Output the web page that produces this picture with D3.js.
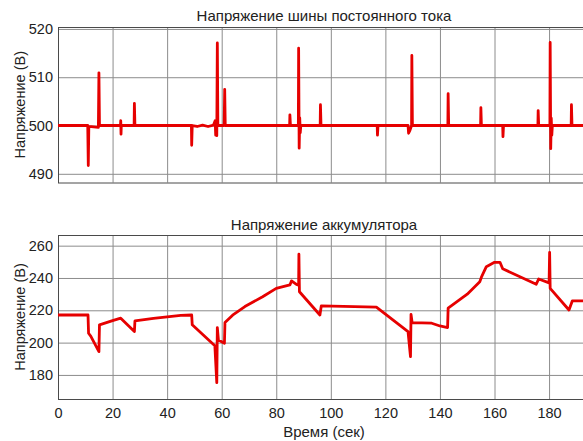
<!DOCTYPE html>
<html><head><meta charset="utf-8">
<script src="https://cdn.jsdelivr.net/npm/d3@7/dist/d3.min.js"></script>
<style>body{margin:0;background:#fff}svg{display:block}text{font-family:"Liberation Sans",Arial,sans-serif;fill:#222}</style>
</head><body><svg id="c" width="583" height="441"></svg>
<script>
// ---- data ----
const busTitle = "Напряжение шины постоянного тока";
const batTitle = "Напряжение аккумулятора";
const yLabel = "Напряжение (В)";
const xLabel = "Время (сек)";
const xTicks = [0,20,40,60,80,100,120,140,160,180,200];
const busTicks = [490,500,510,520];
const batTicks = [180,200,220,240,260];

const busTime = [0,10.9,11.1,11.3,14.8,15.0,15.2,22.9,23.0,23.1,23.2,27.9,28.0,28.2,48.9,49.0,49.2,51,53,55,57,57.6,57.8,58.0,58.2,58.4,58.6,60.9,61.1,61.3,84.9,85.0,85.2,88.1,88.2,88.4,88.6,88.8,89.0,96.1,96.2,96.4,117.0,117.1,117.3,128.3,128.5,129.0,129.6,129.7,129.9,142.9,143.0,143.2,154.9,155.0,155.2,163.0,163.1,163.3,175.9,176.0,176.2,180.3,180.4,180.6,180.8,181.0,181.2,188.1,188.2,188.4,195];
const busVolt = [500,500,491.7,499.8,499.6,510.9,500,500,501,498.2,500,500,504.6,500,500,495.9,500,499.8,500.1,499.8,500.1,501,498,501,497.9,517.1,500,500,507.5,500,500,502.2,500,500,516,495.3,501.6,498.5,500,500,504.3,500,500,498,500,500,498.4,499,500,514.5,500,500,506.6,500,500,503.7,500,500,497.7,500,500,503.1,500,500,517.2,495.2,501.5,498,500,500,504.3,500,500];

const batTime = [0,11.0,11.2,12,15.0,15.2,20,23,28,28.2,35,45,49,49.2,57.5,58.2,58.4,58.8,61,61.2,64,68.5,75,80,85,85.6,87.4,88.2,88.3,88.5,96,96.5,116.7,128.3,129.2,129.4,129.8,137,140,142.8,143.0,150,154.6,155.2,157,160,162,163,175.3,176.2,180,180.2,180.4,187.3,188.5,195];
const batVolt = [217.1,217.1,205.8,204,194.4,211,213.6,215.1,206.8,213.4,215,216.8,217.1,211,198,175.2,209.3,201.6,199.6,212.4,217,222.3,228.4,233.6,235.7,238.2,236,235.5,254.7,231.5,217.1,222.7,221.9,206.8,191.3,217.5,212.4,212,210.3,209.3,221.3,230,237.7,240.5,247,249.7,249.7,245.7,236.1,239.4,237,255.9,233.6,220.2,225.8,225.8];

// ---- drawing ----
const svg = d3.select("#c");
svg.append("rect").attr("width",583).attr("height",441).attr("fill","#fff");
const L = 58, R = 590;
const x = d3.scaleLinear().domain([0,195]).range([L,R]);

function panel(id, top, bottom, yDomain, yTicks, times, vals, title, titleY, showX){
  const y = d3.scaleLinear().domain(yDomain).range([bottom, top]);
  const g = svg.append("g");
  g.append("clipPath").attr("id","clip"+id).append("rect")
    .attr("x",L).attr("y",top).attr("width",R-L).attr("height",bottom-top);
  // grid
  g.append("g").attr("transform",`translate(0,${bottom})`)
    .call(d3.axisBottom(x).tickValues(xTicks.filter(t=>t<=195)).tickSize(-(bottom-top)).tickFormat(""))
    .call(a=>{a.select(".domain").remove();a.selectAll("line").attr("stroke","#8c8c8c").attr("stroke-width",1);});
  g.append("g").attr("transform",`translate(${L},0)`)
    .call(d3.axisLeft(y).tickValues(yTicks).tickSize(-(R-L)).tickFormat(""))
    .call(a=>{a.select(".domain").remove();a.selectAll("line").attr("stroke","#8c8c8c").attr("stroke-width",1);});
  // frame
  g.append("rect").attr("x",L+0.5).attr("y",top+0.5).attr("width",R-L).attr("height",bottom-top)
    .attr("fill","none").attr("stroke","#4a4a4a").attr("stroke-width",1);
  // y tick labels
  g.append("g").attr("transform",`translate(${L},0)`)
    .call(d3.axisLeft(y).tickValues(yTicks).tickSize(0).tickPadding(5))
    .call(a=>{a.select(".domain").remove();a.selectAll("text").style("font-size","14.5px").attr("fill","#222");});
  if(showX){
    g.append("g").attr("transform",`translate(0,${bottom})`)
      .call(d3.axisBottom(x).tickValues(xTicks.filter(t=>t<=195)).tickSize(0).tickPadding(9))
      .call(a=>{a.select(".domain").remove();a.selectAll("text").style("font-size","14.5px").attr("fill","#222");});
  }
  // line
  const pts = times.map((t,i)=>[t,vals[i]]);
  g.append("path").datum(pts).attr("clip-path",`url(#clip${id})`)
    .attr("fill","none").attr("stroke","#e60000").attr("stroke-width",2.8).attr("stroke-linejoin","round")
    .attr("d", d3.line().x(d=>x(d[0])).y(d=>y(d[1])));
  // title
  g.append("text").attr("x",(L+R)/2).attr("y",titleY).attr("text-anchor","middle")
    .style("font-size","15px").text(title);
  // y label
  g.append("text").attr("transform",`translate(25,${(top+bottom)/2}) rotate(-90)`)
    .attr("text-anchor","middle").style("font-size","14.5px").text(yLabel);
}

panel(1, 27, 182.5, [488.2,520.4], busTicks, busTime, busVolt, busTitle, 21, false);
panel(2, 235, 399, [165.1,266.6], batTicks, batTime, batVolt, batTitle, 229.5, true);

svg.append("text").attr("x",(L+R)/2).attr("y",437).attr("text-anchor","middle")
  .style("font-size","15px").text(xLabel);
</script></body></html>
